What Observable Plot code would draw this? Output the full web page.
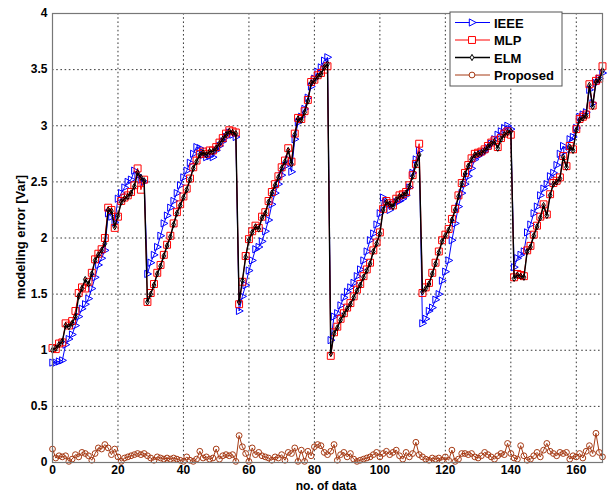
<!DOCTYPE html>
<html><head><meta charset="utf-8">
<script src="https://cdn.jsdelivr.net/npm/d3@7"></script>
<script src="https://cdn.jsdelivr.net/npm/@observablehq/plot@0.6"></script>
<style>body{margin:0;background:#fff;}#chart{position:relative;width:611px;height:492px;overflow:hidden;}</style>
</head><body><div id="chart"></div>
<script>
const xTicks = [0,20,40,60,80,100,120,140,160];
const yTicks = [0,0.5,1,1.5,2,2.5,3,3.5,4];
const yTickLabels = ["0","0.5","1","1.5","2","2.5","3","3.5","4"];
const seriesNames = ["IEEE","MLP","ELM","Proposed"];
const seriesColors = ["#0000ff","#ff0000","#000000","#a63a14"];

const ieee = [
0.89,0.89,0.90,0.91,1.05,1.10,1.14,1.22,1.30,1.37,
1.41,1.46,1.55,1.65,1.76,1.82,1.89,2.22,2.19,2.14,
2.35,2.40,2.45,2.50,2.52,2.60,2.56,2.52,2.50,1.68,
1.78,1.85,1.92,2.02,2.13,2.20,2.27,2.33,2.40,2.47,
2.54,2.60,2.67,2.75,2.81,2.80,2.74,2.72,2.73,2.72,
2.78,2.82,2.86,2.90,2.94,2.92,2.90,1.35,1.48,1.58,
1.71,1.80,1.90,1.92,1.97,2.06,2.16,2.30,2.40,2.48,
2.56,2.64,2.70,2.59,2.88,3.03,3.08,3.15,3.25,3.35,
3.42,3.48,3.52,3.58,3.61,1.09,1.30,1.33,1.40,1.47,
1.52,1.56,1.60,1.66,1.72,1.80,1.88,1.98,2.04,2.12,
2.22,2.36,2.30,2.25,2.30,2.32,2.33,2.35,2.38,2.45,
2.58,2.70,2.78,1.24,1.28,1.35,1.38,1.45,1.50,1.62,
1.70,1.80,1.98,2.13,2.28,2.40,2.48,2.55,2.62,2.70,
2.73,2.75,2.77,2.80,2.84,2.88,2.92,2.95,2.98,3.00,
2.97,1.74,1.82,1.85,1.88,2.05,2.12,2.22,2.28,2.38,
2.44,2.48,2.55,2.58,2.65,2.75,2.82,2.78,2.88,2.90,
2.98,3.08,3.10,3.12,3.32,3.20,3.38,3.42,3.47];

const mlp = [
1.02,1.01,1.06,1.07,1.24,1.22,1.26,1.35,1.51,1.56,
1.55,1.61,1.69,1.81,1.86,1.90,2.00,2.27,2.25,2.09,
2.19,2.33,2.36,2.38,2.41,2.47,2.62,2.43,2.52,1.43,
1.51,1.59,1.69,1.76,1.85,1.94,2.02,2.13,2.23,2.30,
2.37,2.44,2.53,2.63,2.69,2.75,2.77,2.75,2.78,2.78,
2.81,2.85,2.89,2.93,2.96,2.95,2.94,1.41,1.61,1.84,
1.99,2.06,2.11,2.09,2.19,2.23,2.33,2.41,2.48,2.55,
2.63,2.69,2.80,2.68,2.93,3.07,3.06,3.13,3.23,3.39,
3.41,3.45,3.47,3.50,3.53,0.95,1.16,1.21,1.28,1.33,
1.38,1.42,1.48,1.54,1.59,1.66,1.72,1.78,1.89,1.96,
2.05,2.26,2.33,2.31,2.29,2.35,2.38,2.39,2.41,2.47,
2.56,2.66,2.84,1.51,1.56,1.60,1.69,1.78,1.88,1.98,
2.03,2.08,2.17,2.26,2.38,2.49,2.58,2.65,2.71,2.75,
2.76,2.77,2.79,2.82,2.85,2.87,2.81,2.89,2.93,2.95,
2.92,1.65,1.68,1.67,1.66,1.89,1.93,2.03,2.11,2.19,
2.30,2.21,2.39,2.49,2.51,2.54,2.73,2.64,2.82,2.79,
2.97,3.06,3.08,3.10,3.37,3.18,3.40,3.42,3.53];

const elm = [
1.00,1.02,1.05,1.08,1.22,1.21,1.24,1.30,1.48,1.55,
1.63,1.59,1.68,1.80,1.85,1.89,1.95,2.25,2.24,2.10,
2.20,2.32,2.35,2.37,2.40,2.46,2.58,2.54,2.51,1.43,
1.50,1.58,1.68,1.75,1.84,1.93,2.01,2.12,2.22,2.29,
2.36,2.43,2.52,2.62,2.68,2.74,2.76,2.74,2.77,2.77,
2.80,2.84,2.88,2.92,2.95,2.94,2.93,1.43,1.62,1.83,
1.98,2.05,2.10,2.08,2.18,2.22,2.32,2.40,2.47,2.54,
2.62,2.68,2.78,2.66,2.92,3.06,3.05,3.12,3.22,3.38,
3.40,3.44,3.46,3.52,3.55,0.97,1.15,1.20,1.27,1.32,
1.37,1.41,1.47,1.53,1.58,1.65,1.71,1.77,1.88,1.95,
2.04,2.25,2.32,2.30,2.28,2.34,2.37,2.38,2.40,2.46,
2.55,2.65,2.74,1.52,1.55,1.59,1.68,1.77,1.87,1.97,
2.02,2.07,2.16,2.25,2.37,2.48,2.57,2.64,2.70,2.74,
2.75,2.76,2.78,2.81,2.84,2.86,2.80,2.88,2.92,2.94,
2.95,1.64,1.67,1.66,1.65,1.88,1.92,2.02,2.10,2.18,
2.29,2.20,2.38,2.48,2.50,2.53,2.72,2.63,2.81,2.78,
2.96,3.05,3.07,3.09,3.36,3.17,3.39,3.41,3.49];

const proposed = [
0.12,0.04,0.06,0.05,0.06,0.01,0.03,0.07,0.05,0.09,
0.08,0.06,0.02,0.08,0.13,0.12,0.16,0.13,0.07,0.12,
0.05,0.01,0.04,0.05,0.06,0.07,0.08,0.07,0.08,0.06,
0.04,0.02,0.05,0.04,0.03,0.04,0.03,0.04,0.03,0.02,
0.01,0.05,0.02,0.01,0.03,0.10,0.04,0.05,0.03,0.04,
0.12,0.03,0.06,0.07,0.06,0.07,0.01,0.24,0.14,0.08,
0.01,0.13,0.07,0.09,0.06,0.05,0.04,0.02,0.05,0.04,
0.07,0.02,0.09,0.08,0.13,0.01,0.11,0.01,0.10,0.06,
0.14,0.16,0.15,0.09,0.07,0.10,0.16,0.02,0.07,0.09,
0.05,0.08,0.03,0.01,0.02,0.03,0.04,0.05,0.07,0.09,
0.05,0.08,0.10,0.07,0.09,0.11,0.06,0.03,0.09,0.05,
0.08,0.18,0.07,0.05,0.03,0.02,0.04,0.03,0.04,0.02,
0.05,0.02,0.11,0.01,0.03,0.08,0.08,0.07,0.08,0.05,
0.04,0.06,0.09,0.07,0.05,0.03,0.06,0.08,0.07,0.17,
0.08,0.04,0.03,0.15,0.06,0.02,0.03,0.06,0.09,0.05,
0.11,0.17,0.10,0.08,0.06,0.09,0.08,0.09,0.03,0.06,
0.05,0.08,0.04,0.10,0.15,0.08,0.26,0.09,0.05];

const triRight = {draw(ctx, size){ const r = Math.sqrt(size/Math.PI);
  ctx.moveTo(r*1.15,0); ctx.lineTo(-r*0.75,-r*1.0); ctx.lineTo(-r*0.75,r*1.0); ctx.closePath(); }};

const toRows = arr => arr.map((v,i)=>({x:i, y:v}));
const rows = [ieee, mlp, elm, proposed].map(toRows);
const symbols = [triRight, "square", "diamond", "circle"];
const radii = [3.6, 3.9, 1.9, 2.9];
const widths = [1, 1, 1.4, 1];

const marks = [
  Plot.gridX(xTicks, {stroke:"#222", strokeOpacity:0.9, strokeDasharray:"1.6,2.6"}),
  Plot.gridY(yTicks, {stroke:"#222", strokeOpacity:0.9, strokeDasharray:"1.6,2.6"}),
  Plot.axisX({ticks:xTicks, tickSize:0, tickPadding:3, label:null, fontWeight:"bold", fontSize:12}),
  Plot.axisY({ticks:yTicks, tickSize:0, tickPadding:5, label:null, fontWeight:"bold", fontSize:12,
    tickFormat:(d)=>yTickLabels[yTicks.indexOf(d)]}),
];
rows.forEach((r,k)=>{
  marks.push(Plot.line(r, {x:"x", y:"y", stroke:seriesColors[k], strokeWidth:widths[k]}));
  marks.push(Plot.dot(r, {x:"x", y:"y", symbol:symbols[k], r:radii[k], stroke:seriesColors[k], fill:"none", strokeWidth:1}));
});
marks.push(Plot.frame({stroke:"#777", strokeWidth:1.2}));

const chart = Plot.plot({
  width:611, height:492,
  marginLeft:52, marginRight:9, marginTop:13, marginBottom:30,
  x:{domain:[0,168]}, y:{domain:[0,4]},
  style:{fontFamily:"'Liberation Sans', Arial, sans-serif", fontSize:"12px", background:"#fff", overflow:"visible"},
  marks
});
document.getElementById("chart").append(chart);

const svg = d3.select(chart);
const font = "'Liberation Sans', Arial, sans-serif";
svg.append("text").attr("x",326).attr("y",490).attr("text-anchor","middle")
  .attr("font-weight","bold").attr("font-size",12).attr("font-family",font)
  .text("no. of data");
svg.append("text").attr("transform","translate(25,237) rotate(-90)").attr("text-anchor","middle")
  .attr("font-weight","bold").attr("font-size",13).attr("font-family",font)
  .text("modeling error [Var]");

// legend
const lg = svg.append("g");
lg.append("rect").attr("x",450).attr("y",12).attr("width",112).attr("height",74)
  .attr("fill","#fff").attr("stroke","#555").attr("stroke-width",1);
const symPaths = [triRight, d3.symbolSquare, d3.symbolDiamond, d3.symbolCircle];
seriesNames.forEach((name,k)=>{
  const y = 22.5 + k*17.5;
  lg.append("line").attr("x1",455).attr("x2",490).attr("y1",y).attr("y2",y)
    .attr("stroke",seriesColors[k]).attr("stroke-width",widths[k]);
  lg.append("path").attr("transform",`translate(472,${y})`)
    .attr("d", d3.symbol(symPaths[k], Math.PI*radii[k]*radii[k])())
    .attr("fill","#fff").attr("stroke",seriesColors[k]);
  lg.append("text").attr("x",494).attr("y",y+5).attr("text-anchor","start")
    .attr("font-weight","bold").attr("font-size",13).attr("font-family",font).text(name);
});
</script></body></html>
